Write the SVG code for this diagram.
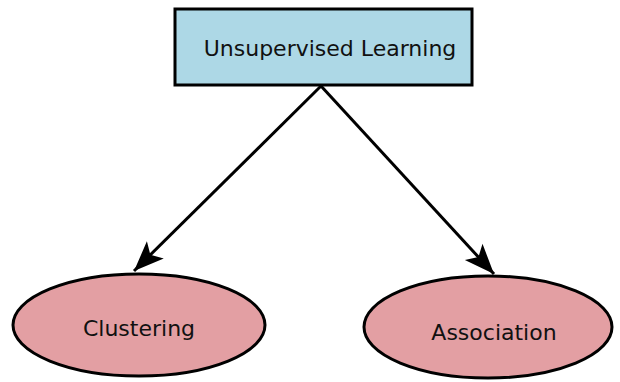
<svg xmlns="http://www.w3.org/2000/svg" width="620" height="382" viewBox="0 0 620 382">
<defs>
<style>
.box{fill:#ADD8E6;stroke:#000;stroke-width:3}
.ell{fill:#E39FA3;stroke:#000;stroke-width:3}
.lbl{font-family:"DejaVu Sans",Verdana,sans-serif;font-size:22px;fill:#111;text-anchor:middle}
.edge{stroke:#000;stroke-width:3;fill:none;marker-end:url(#arr)}
</style>
<marker id="arr" markerUnits="userSpaceOnUse" markerWidth="34" markerHeight="34" viewBox="0 0 34 34" refX="32" refY="17" orient="auto">
<path d="M2,5 L32,17 L2,29 L9,17 Z" fill="#000"/>
</marker>
</defs>
<rect width="620" height="382" fill="#fff"/>
<g id="connectors">
<line class="edge" x1="321" y1="86" x2="134" y2="271"/>
<line class="edge" x1="321" y1="86" x2="494" y2="274"/>
</g>
<g id="unsupervised">
<rect class="box" x="175" y="9" width="297" height="76"/>
<text class="lbl" x="330" y="56">Unsupervised Learning</text>
</g>
<g id="clustering">
<ellipse class="ell" cx="139" cy="325" rx="126" ry="51"/>
<text class="lbl" x="139" y="336">Clustering</text>
</g>
<g id="association">
<ellipse class="ell" cx="488" cy="327" rx="124" ry="51"/>
<text class="lbl" x="494" y="340">Association</text>
</g>
</svg>
